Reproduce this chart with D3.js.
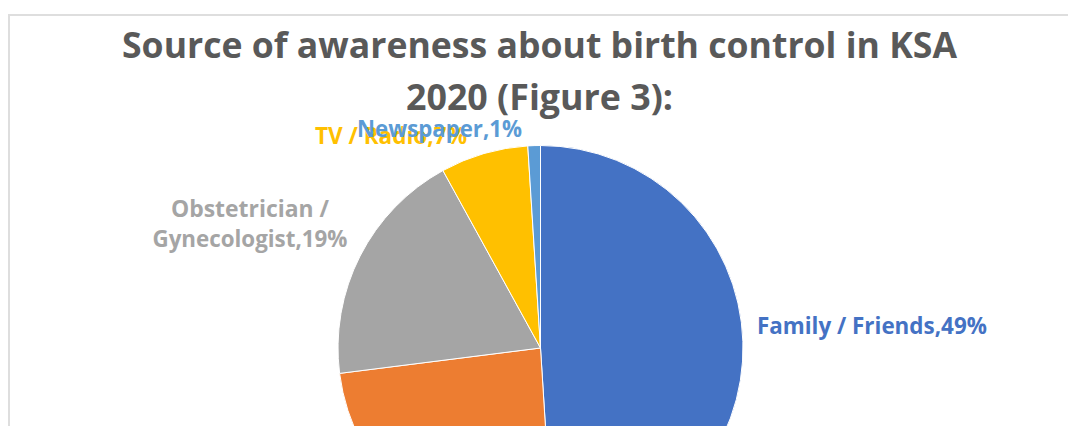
<!DOCTYPE html>
<html>
<head>
<meta charset="utf-8">
<script src="https://cdn.jsdelivr.net/npm/d3@7"></script>
<style>
  html, body { margin: 0; padding: 0; background: #ffffff; }
  svg { display: block; }
  text { font-family: "Open Sans", "Noto Sans", sans-serif; font-weight: 700; }
</style>
</head>
<body>
<svg id="chart" width="1068" height="426"></svg>
<script>
// Source of awareness (share of respondents, %)
const categories = [
  "Family / Friends",
  "Internet / Social media",
  "Obstetrician / Gynecologist",
  "TV / Radio",
  "Newspaper"
];
const shares = [49, 24, 19, 7, 1];
const titleLines = [
  "Source of awareness about birth control in KSA",
  "2020 (Figure 3):"
];

const svg = d3.select("#chart");

// chart area frame
svg.append("rect")
  .attr("x", 9).attr("y", 15)
  .attr("width", 1080).attr("height", 440)
  .attr("fill", "#ffffff")
  .attr("stroke", "#dedede")
  .attr("stroke-width", 2);

// title
const titleEl = svg.append("g").attr("class", "title");
const titleLayout = [
  { y: 58, width: 835 },
  { y: 110, width: 267 }
];
titleLines.forEach((t, i) => {
  titleEl.append("text")
    .attr("x", 539.5)
    .attr("y", titleLayout[i].y)
    .attr("text-anchor", "middle")
    .attr("font-size", 35)
    .attr("fill", "#595959")
    .attr("textLength", titleLayout[i].width)
    .attr("lengthAdjust", "spacingAndGlyphs")
    .text(t);
});

// pie
const palette = d3.scaleOrdinal()
  .domain(categories)
  .range(["#4472C4", "#ED7D31", "#A5A5A5", "#FFC000", "#5B9BD5"]);

const cx = 540.5, cy = 348, r = 202.5;
const data = categories.map((c, i) => ({ name: c, value: shares[i] }));
const arcs = d3.pie().sort(null).value(d => d.value)(data);
const arc = d3.arc().innerRadius(0).outerRadius(r);

const g = svg.append("g").attr("transform", `translate(${cx},${cy})`);

g.selectAll("path.slice")
  .data(arcs)
  .join("path")
  .attr("class", "slice")
  .attr("d", arc)
  .attr("fill", d => palette(d.data.name))
  .attr("stroke", "#ffffff")
  .attr("stroke-width", 1);

// label placement: anchor side, nudge from the outer point, line breaks, fitted widths
// (the lower slice's label falls below the visible area, so it is not drawn)
const labelLayout = {
  "Family / Friends":            { anchor: "start",  dx: 2,     dy: -7,    lines: 1, widths: [230] },
  "Obstetrician / Gynecologist": { anchor: "middle", dx: -99.4, dy: -33.6, lines: 2, widths: [158, 195] },
  "TV / Radio":                  { anchor: "end",    dx: -13.7, dy: 2,     lines: 1, widths: [152] },
  "Newspaper":                   { anchor: "end",    dx: -11.8, dy: 3.4,   lines: 1, widths: [165] }
};

function labelText(d) {
  const full = `${d.data.name},${d.data.value}%`;
  const L = labelLayout[d.data.name];
  if (L.lines === 2) {
    const cut = d.data.name.indexOf("/ ") + 1;
    return [full.slice(0, cut), full.slice(cut + 1)];
  }
  return [full];
}

arcs.filter(d => labelLayout[d.data.name]).forEach(d => {
  const L = labelLayout[d.data.name];
  // point just outside the rim at the slice's mid angle
  const mid = (d.startAngle + d.endAngle) / 2;
  const px = cx + (r + 12) * Math.sin(mid);
  const py = cy - (r + 12) * Math.cos(mid);
  const lines = labelText(d);
  lines.forEach((line, i) => {
    const t = svg.append("text")
      .attr("x", px + L.dx)
      .attr("y", py + L.dy + i * 30)
      .attr("text-anchor", L.anchor)
      .attr("font-size", 22.5)
      .attr("fill", palette(d.data.name))
      .text(line);
    if (L.widths[i]) {
      t.attr("textLength", L.widths[i]).attr("lengthAdjust", "spacingAndGlyphs");
    }
  });
});
</script>
</body>
</html>
